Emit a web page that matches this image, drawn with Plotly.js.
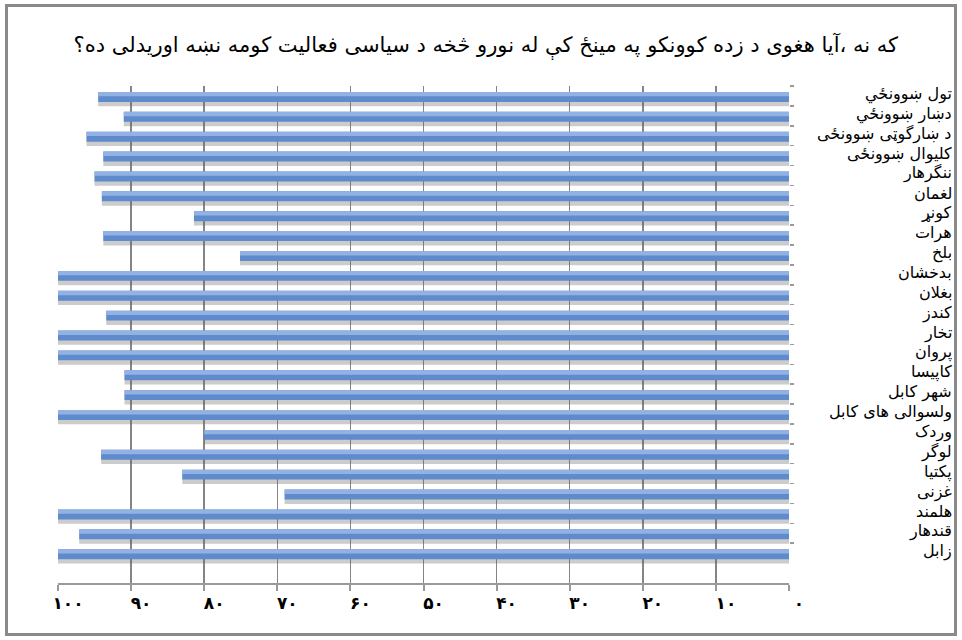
<!DOCTYPE html>
<html>
<head>
<meta charset="utf-8">
<script src="https://cdn.plot.ly/plotly-3.0.1.min.js"></script>
<style>
  html, body { margin: 0; padding: 0; background: #fff; }
  #frame { position: absolute; left: 5px; top: 4px; width: 946px; height: 626px; border: 3px solid #8a8a8a; }
  #chart { position: absolute; left: 0; top: 0; width: 962px; height: 640px; }
</style>
</head>
<body>
<div id="frame"></div>
<div id="chart"></div>
<script>
const titleText = "که نه ،آیا هغوی د زده کوونکو په مینځ کې له نورو څخه د سیاسی فعالیت کومه نښه اوریدلی ده؟";

const categories = [
  "تول ښوونځي", "دښار ښوونځي", "د ښارگوټی ښوونځی", "کلیوال ښوونځی",
  "ننگرهار", "لغمان", "کونړ", "هرات", "بلخ", "بدخشان", "بغلان", "کندز",
  "تخار", "پروان", "کاپیسا", "شهر کابل", "ولسوالی های کابل", "وردک",
  "لوگر", "پکتیا", "غزنی", "هلمند", "قندهار", "زابل"
];

const values = [
  94.5, 91.0, 96.1, 93.8,
  95.0, 94.0, 81.4, 93.8, 75.1, 100, 100, 93.4,
  100, 100, 90.9, 90.9, 100, 80.0,
  94.1, 83.0, 69.0, 100, 97.1, 100
];

const tickVals = [0, 10, 20, 30, 40, 50, 60, 70, 80, 90, 100];
const tickText = ["۰", "۱۰", "۲۰", "۳۰", "۴۰", "۵۰", "۶۰", "۷۰", "۸۰", "۹۰", "۱۰۰"];

const arFont = "DejaVu Sans, Noto Sans, sans-serif";

const shadow = {
  type: "bar", orientation: "h", x: values, y: categories,
  width: 0.5, offset: 0.02,
  marker: { color: "rgba(100,100,100,0.33)", line: { width: 0 } },
  hoverinfo: "skip", showlegend: false
};
const barBottom = {
  type: "bar", orientation: "h", x: values, y: categories,
  width: 0.5, offset: -0.2,
  marker: { color: "#5f8acb", line: { width: 0 } },
  showlegend: false
};
const barTop = {
  type: "bar", orientation: "h", x: values, y: categories,
  width: 0.22, offset: -0.2,
  marker: { color: "#92b2e4", line: { width: 0 } },
  hoverinfo: "skip", showlegend: false
};

const annotations = categories.map(c => ({
  text: c, xref: "paper", yref: "y", x: 1.226, y: c,
  xanchor: "right", yanchor: "middle", yshift: 2, showarrow: false,
  font: { family: arFont, size: 16, color: "#000" }
}));

const layout = {
  width: 962, height: 640,
  paper_bgcolor: "rgba(0,0,0,0)", plot_bgcolor: "rgba(0,0,0,0)",
  margin: { l: 58, r: 173, t: 86, b: 57, pad: 0 },
  barmode: "overlay",
  title: {
    text: titleText, x: 0.505, xref: "container", y: 0.93, yanchor: "middle",
    font: { family: arFont, size: 21, color: "#000" }
  },
  xaxis: {
    range: [100, 0], tickmode: "array", tickvals: tickVals, ticktext: tickText,
    showgrid: true, gridcolor: "#858585", gridwidth: 1.5,
    showline: true, linecolor: "#9a9a9a", linewidth: 2,
    ticks: "outside", ticklen: 6, tickwidth: 2, tickcolor: "#9a9a9a",
    ticklabelshift: -10, ticklabelstandoff: -2,
    zeroline: false,
    tickfont: { family: arFont, size: 17, color: "#000", weight: "bold" },
    fixedrange: true
  },
  yaxis: {
    type: "category", categoryorder: "array", categoryarray: categories,
    range: [24.5, -0.5], side: "right",
    showticklabels: false, showgrid: false, showline: false, zeroline: false,
    ticks: "outside", tickson: "boundaries", ticklen: 4, tickwidth: 1.5, tickcolor: "#9a9a9a",
    fixedrange: true
  },
  annotations: annotations,
  showlegend: false
};

Plotly.newPlot("chart", [shadow, barBottom, barTop], layout, { displayModeBar: false, staticPlot: true });
</script>
</body>
</html>
